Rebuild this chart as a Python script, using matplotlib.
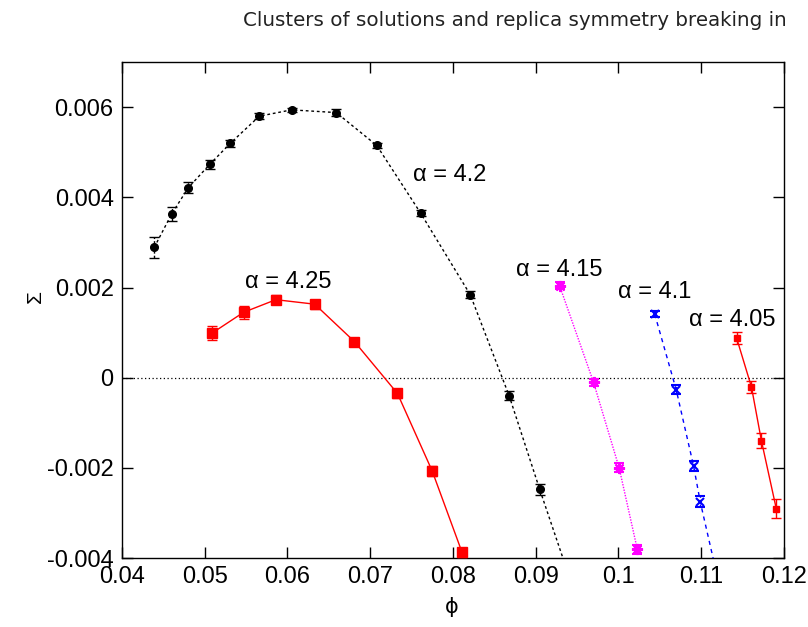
import numpy as np
import matplotlib
matplotlib.use("Agg")
from matplotlib import pyplot as plt

plt.rcParams['font.family'] = ['Liberation Sans', 'DejaVu Sans']
plt.rcParams['axes.unicode_minus'] = False

# alpha = 4.25
phi_425 = [0.0509, 0.0547, 0.0586, 0.0633, 0.0681, 0.0733, 0.0775, 0.0811]
sig_425 = [0.00099, 0.00145, 0.00173, 0.00163, 0.00080, -0.00035, -0.00207, -0.00387]
err_425 = [0.00015, 0.00014, 0.00010, 0.00010, 0.00004, 0.00010, 0.00012, 0.00010]

# alpha = 4.2
phi_42 = [0.0439, 0.0460, 0.0480, 0.0506, 0.0531, 0.0566, 0.0605, 0.0659,
          0.0708, 0.0761, 0.0821, 0.0868, 0.0905, 0.0945]
sig_42 = [0.00289, 0.00363, 0.00421, 0.00473, 0.00520, 0.00580, 0.00594, 0.00588,
          0.00515, 0.00365, 0.00184, -0.00040, -0.00248, -0.00465]
err_42 = [0.00024, 0.00015, 0.00012, 0.00010, 0.00008, 0.00007, 0.00005, 0.00007,
          0.00006, 0.00007, 0.00008, 0.00010, 0.00012, 0.00012]

# alpha = 4.15
phi_415 = [0.0929, 0.0970, 0.1001, 0.1023]
sig_415 = [0.00204, -0.00010, -0.00200, -0.00381]
err_415 = [0.00008, 0.00008, 0.00010, 0.00010]

# alpha = 4.1
phi_41 = [0.1044, 0.1070, 0.1091, 0.1099, 0.1122]
sig_41 = [0.00141, -0.00027, -0.00196, -0.00275, -0.00460]
err_41 = [0.00006, 0.00010, 0.00012, 0.00012, 0.00012]

# alpha = 4.05
phi_405 = [0.1143, 0.1161, 0.1173, 0.1191]
sig_405 = [0.00088, -0.00021, -0.00140, -0.00291]
err_405 = [0.00014, 0.00013, 0.00017, 0.00021]

xticks = [0.04, 0.05, 0.06, 0.07, 0.08, 0.09, 0.1, 0.11, 0.12]
yticks = [-0.004, -0.002, 0, 0.002, 0.004, 0.006]

fig = plt.figure(figsize=(8.08, 6.27), dpi=100)
ax = fig.add_axes([0.151, 0.110, 0.819, 0.791])

ax.axhline(0, color='black', lw=0.9, ls=(0, (1, 2)), zorder=1)


def curve(x, y, e, color, marker, ms, ls, mew=1.0):
    line, caps, bars = ax.errorbar(x, y, yerr=e, color=color, marker=marker,
                                   ms=ms, mew=mew, lw=1.0, ls=ls, elinewidth=1.0,
                                   capsize=3.5, capthick=1.0, zorder=3)
    if ls != '-':
        for b in bars:
            b.set_linestyle((0, (2, 1.5)))
    return line


curve(phi_42, sig_42, err_42, 'black', 'o', 5.5, (0, (2, 2)))
curve(phi_425, sig_425, err_425, '#ff0000', 's', 6.5, '-')
curve(phi_415, sig_415, err_415, '#ff00ff', (8, 2, 0), 8, (0, (1, 1)), mew=1.5)
curve(phi_41, sig_41, err_41, '#0000ff', 'x', 6, (0, (3, 3)), mew=1.5)
curve(phi_405, sig_405, err_405, '#ff0000', 's', 4.5, '-')

labels = [(0.0796, 0.00450, 'α = 4.2'),
          (0.0601, 0.00213, 'α = 4.25'),
          (0.0929, 0.00239, 'α = 4.15'),
          (0.1044, 0.00190, 'α = 4.1'),
          (0.1138, 0.00128, 'α = 4.05')]
for lx, ly, txt in labels:
    ax.text(lx, ly, txt, fontsize=17, ha='center', va='center')

ax.set_xlim(0.04, 0.12)
ax.set_ylim(-0.004, 0.007)
ax.set_xticks(xticks)
ax.set_xticklabels(['%g' % v for v in xticks])
ax.set_yticks(yticks)
ax.set_yticklabels(['%g' % v if v != 0 else '0' for v in yticks])
ax.tick_params(direction='in', length=8, width=1, labelsize=17,
               top=True, right=True, pad=6)
for s in ax.spines.values():
    s.set_linewidth(1.0)

fig.text(35 / 808, 1 - 297 / 627, 'Σ', fontsize=15, ha='center', va='center',
         rotation=90)
fig.text(452 / 808, 1 - 607 / 627, 'ϕ', fontsize=15, ha='center', va='center',
         family=['DejaVu Sans'])

fig.text(243 / 808, 1 - 20 / 627, 'Clusters of solutions and replica symmetry breaking in',
         fontsize=14.3, ha='left', va='center', color='#222222',
         family=['DejaVu Sans'])

plt.savefig('out.png', dpi=100)
